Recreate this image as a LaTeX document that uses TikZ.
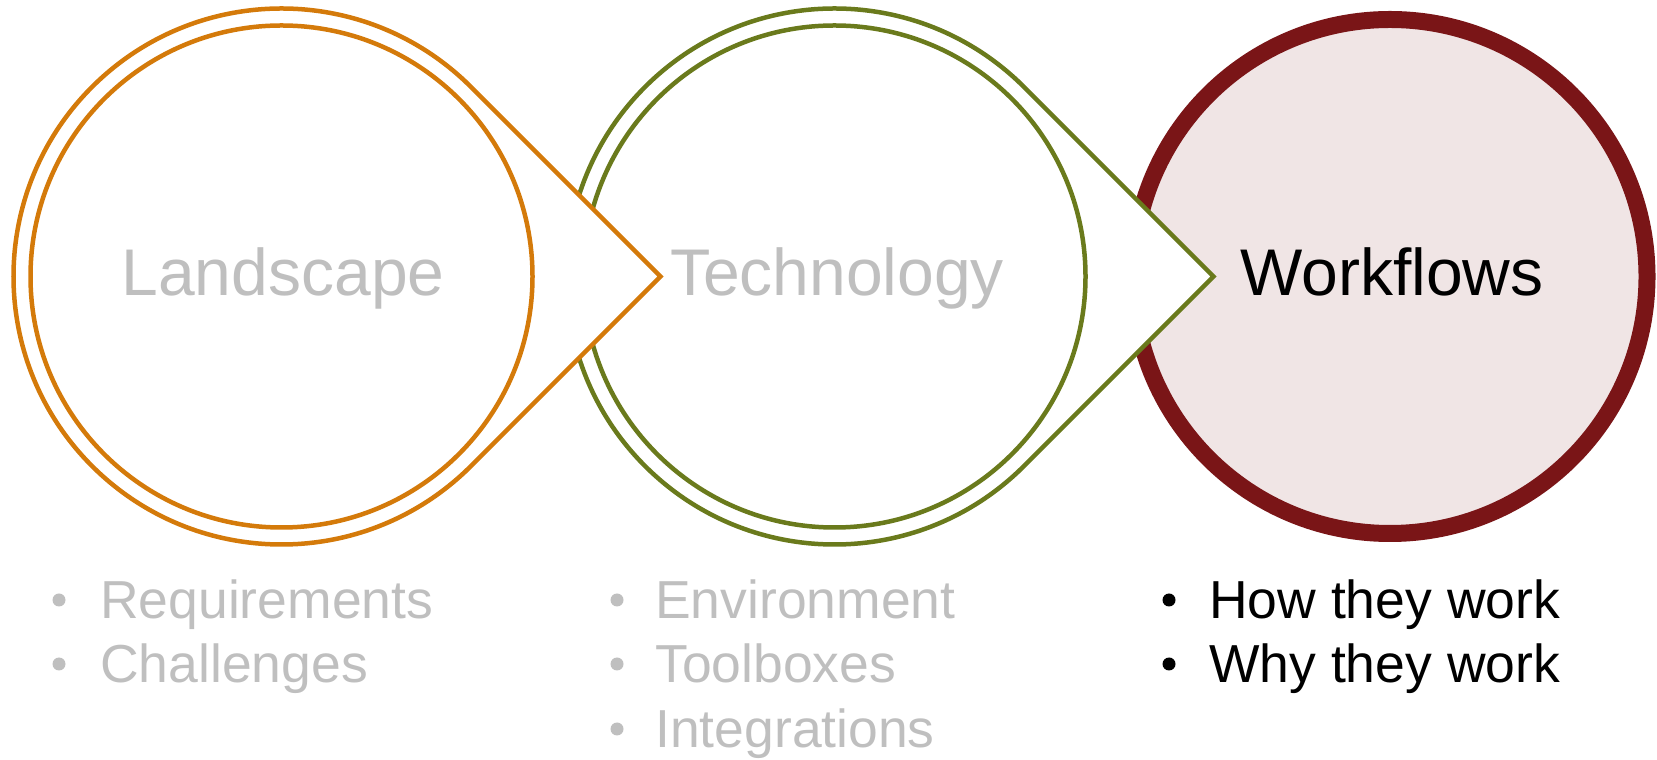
\documentclass[tikz,border=0pt]{standalone}
\usepackage{fontspec}
\setmainfont{Liberation Sans}
\usetikzlibrary{calc}
\definecolor{lorange}{HTML}{D47A0A}
\definecolor{tgreen}{HTML}{6A7A1C}
\definecolor{wred}{HTML}{7A1517}
\definecolor{wfill}{HTML}{F0E5E5}
\definecolor{lgray}{HTML}{BFBFBF}
\begin{document}
\begin{tikzpicture}[x=1pt,y=1pt,
  bigtext/.style={font=\fontsize{66}{72}\selectfont, inner sep=0pt, anchor=base},
  itemtext/.style={font=\fontsize{53.5}{60}\selectfont, anchor=base west, inner sep=0pt},
  bulletdot/.style={circle, minimum size=13pt, inner sep=0pt},
  ring/.style={line width=4.5pt},
  tipshape/.style={line width=4.5pt, fill=white, line join=miter}]
\useasboundingbox (0,0) rectangle (1657,760);
% ---------- Workflows ----------
\coordinate (wc) at (1390,483.5);
\draw[wred, line width=17pt, fill=wfill] (wc) circle[radius=257pt];
% ---------- Technology ----------
\coordinate (tc) at (834.5,483.5);
\coordinate (ttip) at ($(tc)+(379pt,0)$);
\draw[tgreen, tipshape] ($(tc)+(45:268pt)$) arc[start angle=45, end angle=315, radius=268pt] -- (ttip) -- cycle;
\draw[tgreen, ring] (tc) circle[radius=251pt];
% ---------- Landscape ----------
\coordinate (lc) at (281.5,483.5);
\coordinate (ltip) at ($(lc)+(379pt,0)$);
\draw[lorange, tipshape] ($(lc)+(45:268pt)$) arc[start angle=45, end angle=315, radius=268pt] -- (ltip) -- cycle;
\draw[lorange, ring] (lc) circle[radius=251pt];
% ---------- titles ----------
\node[bigtext, text=lgray] (ltitle) at (283,464) {Landscape};
\node[bigtext, text=lgray] (ttitle) at (837,464) {Technology};
\node[bigtext, text=black] (wtitle) at (1392,464) {Workflows};
% ---------- lists ----------
\node[bulletdot, fill=lgray] (lb1) at (59,160) {};
\node[bulletdot, fill=lgray] (lb2) at (59,96) {};
\node[itemtext, text=lgray] (li1) at (100,141) {Requirements};
\node[itemtext, text=lgray] (li2) at (100,77) {Challenges};
\node[bulletdot, fill=lgray] (tb1) at (617,160) {};
\node[bulletdot, fill=lgray] (tb2) at (617,96) {};
\node[bulletdot, fill=lgray] (tb3) at (617,31) {};
\node[itemtext, text=lgray] (ti1) at (655,141) {Environment};
\node[itemtext, text=lgray] (ti2) at (655,77) {Toolboxes};
\node[itemtext, text=lgray] (ti3) at (655,12) {Integrations};
\node[bulletdot, fill=black] (wb1) at (1169,160) {};
\node[bulletdot, fill=black] (wb2) at (1169,96) {};
\node[itemtext, text=black] (wi1) at (1209,141) {How they work};
\node[itemtext, text=black] (wi2) at (1209,77) {Why they work};
\end{tikzpicture}
\end{document}
